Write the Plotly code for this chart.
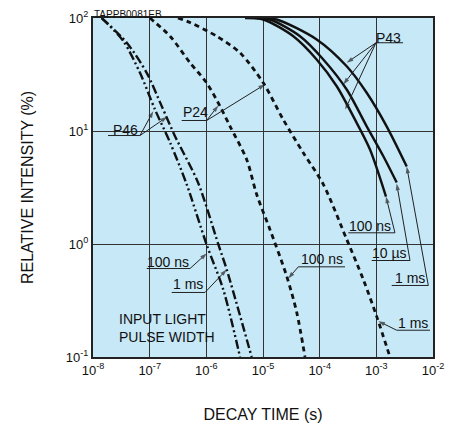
import plotly.graph_objects as go

# ---------------- data (decay time in s, relative intensity in %) ----------------
p46_100ns_t = [1.42e-8, 3.43e-8, 6.75e-8, 1.24e-7, 2.29e-7, 4.50e-7, 1.01e-6, 1.99e-6, 3.93e-6]
p46_100ns_i = [100, 62.4, 32.7, 15.5, 7.91, 3.37, 0.99, 0.395, 0.1]
p46_1ms_t = [1.42e-8, 3.94e-8, 8.87e-8, 1.63e-7, 2.80e-7, 7.13e-7, 1.63e-6, 2.29e-6, 6.31e-6]
p46_1ms_i = [100, 60.4, 32.7, 16.6, 9.0, 3.50, 0.99, 0.594, 0.1]

p24_100ns_t = [1.01e-7, 2.29e-7, 5.15e-7, 1.01e-6, 1.74e-6, 2.62e-6, 5.15e-6, 7.74e-6,
               1.33e-5, 2.62e-5, 3.94e-5, 5.51e-5]
p24_100ns_i = [100, 69.0, 40.2, 26.7, 16.6, 11.0, 5.60, 2.74, 1.34, 0.519, 0.248, 0.1]
p24_1ms_t = [3.16e-7, 5.15e-7, 1.52e-6, 3.93e-6, 1.01e-5, 2.28e-5, 5.14e-5, 1.16e-4,
             3.00e-4, 5.89e-4, 1.01e-3, 1.74e-3]
p24_1ms_i = [100, 91.2, 69.0, 49.2, 26.7, 12.6, 6.41, 3.37, 1.10, 0.485, 0.230, 0.1]

p43_100ns_t = [4.81e-6, 1.01e-5, 3.43e-5, 8.85e-5, 2.00e-4, 4.50e-4, 7.73e-4, 1.48e-3]
p43_100ns_i = [100, 97.0, 69.0, 43.0, 24.9, 11.8, 6.85, 2.63]
p43_10us_t = [7.23e-6, 1.33e-5, 4.50e-5, 1.16e-4, 3.00e-4, 6.76e-4, 1.33e-3, 2.29e-3]
p43_10us_i = [100, 97.0, 69.0, 43.0, 23.3, 11.0, 5.98, 3.50]
p43_1ms_t = [9.59e-6, 1.75e-5, 8.85e-5, 3.00e-4, 6.76e-4, 1.52e-3, 3.44e-3]
p43_1ms_i = [100, 97.0, 64.6, 37.4, 21.8, 11.0, 4.85]

x_tick_vals = [1e-8, 1e-7, 1e-6, 1e-5, 1e-4, 1e-3, 1e-2]
x_tick_text = ["10<sup>-8</sup>", "10<sup>-7</sup>", "10<sup>-6</sup>", "10<sup>-5</sup>",
               "10<sup>-4</sup>", "10<sup>-3</sup>", "10<sup>-2</sup>"]
y_tick_vals = [0.1, 1, 10, 100]
y_tick_text = ["10<sup>-1</sup>", "10<sup>0</sup>", "10<sup>1</sup>", "10<sup>2</sup>"]

chart_title = "TAPPB0081EB"
x_title = "DECAY TIME (s)"
y_title = "RELATIVE INTENSITY (%)"

# ---------------- style ----------------
FONT = "Arial, Liberation Sans, Helvetica, sans-serif"
BG = "#C6E8F7"
INK = "#111111"

series = [
    (p46_100ns_t, p46_100ns_i, "9px,3px,2px,3px,2px,3px", 2.4),
    (p46_1ms_t, p46_1ms_i, "9px,3px,2px,3px", 2.4),
    (p24_100ns_t, p24_100ns_i, "5px,4px", 2.8),
    (p24_1ms_t, p24_1ms_i, "5px,4px", 2.8),
    (p43_100ns_t, p43_100ns_i, "solid", 2.4),
    (p43_10us_t, p43_10us_i, "solid", 2.4),
    (p43_1ms_t, p43_1ms_i, "solid", 2.4),
]

fig = go.Figure()
for t, i, dash, w in series:
    fig.add_trace(go.Scatter(
        x=t, y=i, mode="lines",
        line=dict(color=INK, width=w, dash=dash, shape="spline", smoothing=0.8),
        showlegend=False, hoverinfo="skip", cliponaxis=True,
    ))

# ---------------- labels (positions in log10 axis units) ----------------
# (text, x, y)
texts = [
    ("P46", -7.435, 1.013), ("P24", -6.20, 1.164), ("P43", -2.794, 1.827),
    ("100 ns", -6.677, -0.155), ("1 ms", -6.324, -0.358),
    ("100 ns", -3.964, -0.137), ("1 ms", -2.348, -0.697),
    ("100 ns", -3.112, 0.158), ("10 µs", -2.759, -0.084), ("1 ms", -2.406, -0.305),
]
# underlines: (x0, x1, y)
underlines = [
    (-7.735, -7.171, 0.960), (-6.435, -5.994, 1.093), (-3.006, -2.529, 1.781),
    (-7.052, -6.288, -0.217), (-6.611, -6.024, -0.429),
    (-4.377, -3.553, -0.202), (-2.641, -2.053, -0.763),
    (-3.495, -2.671, 0.099), (-3.082, -2.406, -0.146), (-2.729, -2.083, -0.367),
]
# arrows: (tail x, tail y, tip x, tip y)
arrows = [
    (-7.171, 0.960, -6.936, 1.175), (-7.171, 0.960, -6.689, 1.126),
    (-5.994, 1.093, -5.789, 1.226), (-5.994, 1.093, -4.965, 1.412),
    (-3.006, 1.781, -3.523, 1.604), (-3.006, 1.781, -3.583, 1.412), (-3.006, 1.781, -3.55, 1.190),
    (-6.288, -0.217, -5.994, -0.084), (-6.024, -0.429, -5.641, -0.226),
    (-4.377, -0.202, -4.554, -0.305), (-2.641, -0.763, -2.965, -0.683),
    (-2.671, 0.099, -2.830, 0.420), (-2.406, -0.146, -2.641, 0.535), (-2.083, -0.367, -2.464, 0.686),
]

for x0, x1, y in underlines:
    fig.add_trace(go.Scatter(
        x=[10 ** x0, 10 ** x1], y=[10 ** y, 10 ** y], mode="lines",
        line=dict(color="#222222", width=1), showlegend=False, hoverinfo="skip",
    ))

for ax, ay, x, y in arrows:
    fig.add_trace(go.Scatter(
        x=[10 ** ax, 10 ** x], y=[10 ** ay, 10 ** y], mode="lines+markers",
        line=dict(color="#222222", width=1),
        marker=dict(symbol=["circle", "arrow"], size=[0, 7], color="#222222",
                    angleref="previous", line=dict(width=0)),
        showlegend=False, hoverinfo="skip", cliponaxis=False,
    ))

annotations = []
for txt, x, y in texts:
    annotations.append(dict(x=x, y=y, xref="x", yref="y", text=txt, showarrow=False,
                            xanchor="center", yanchor="middle",
                            font=dict(family=FONT, size=14, color=INK)))

annotations.append(dict(x=-7.576, y=-0.739, xref="x", yref="y",
                        text="INPUT LIGHT<br>PULSE WIDTH", showarrow=False,
                        xanchor="left", yanchor="middle", align="left",
                        font=dict(family=FONT, size=14, color=INK)))

axis_common = dict(
    type="log", showgrid=True, gridcolor="#333333", gridwidth=1,
    showline=True, linecolor="#222222", linewidth=2, mirror=True,
    ticks="", zeroline=False, tickfont=dict(family=FONT, size=13, color=INK),
    automargin=False,
)

# the page body adds an 8 px offset, so the figure is sized to fit the 465x432 window
fig.update_layout(
    width=457, height=424,
    margin=dict(l=85, r=32, t=10, b=75, autoexpand=False),
    paper_bgcolor="white", plot_bgcolor=BG,
    title=dict(text=chart_title, x=86 / 457, xref="container", xanchor="left",
               y=1 - 2.5 / 424, yref="container", yanchor="top", pad=dict(t=0, b=0, l=0, r=0),
               font=dict(family=FONT, size=10, color=INK)),
    xaxis=dict(range=[-8, -2], tickvals=x_tick_vals, ticktext=x_tick_text,
               title=dict(text=x_title, standoff=32, font=dict(family=FONT, size=16, color=INK)),
               **axis_common),
    yaxis=dict(range=[-1, 2], tickvals=y_tick_vals, ticktext=y_tick_text,
               title=dict(text=y_title, standoff=28, font=dict(family=FONT, size=16, color=INK)),
               **axis_common),
    annotations=annotations,
    showlegend=False,
)

fig.write_html("out.html")
